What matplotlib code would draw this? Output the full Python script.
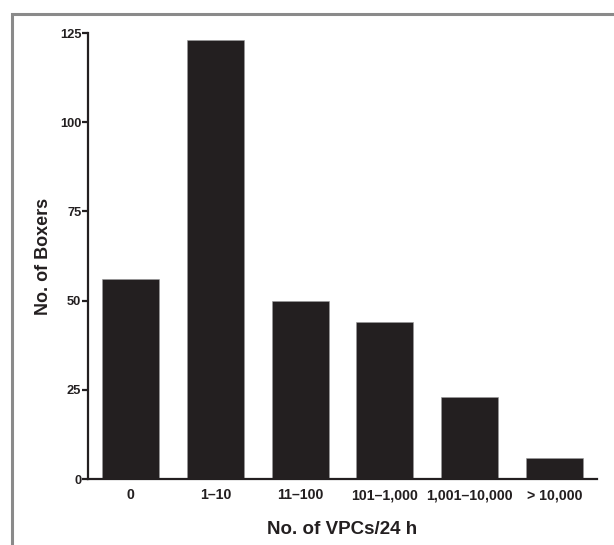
import numpy as np
import matplotlib
matplotlib.use('Agg')
import matplotlib.pyplot as plt
from matplotlib.lines import Line2D

categories = ['0', '1\u201310', '11\u2013100', '101\u20131,000', '1,001\u201310,000', '> 10,000']
boxers = [56, 123, 50, 44, 23, 6]
y_ticks = [0, 25, 50, 75, 100, 125]

plt.rcParams['font.family'] = ['Liberation Sans', 'DejaVu Sans']
plt.rcParams['font.weight'] = 'bold'

W, H = 614, 545
fig = plt.figure(figsize=(W / 100, H / 100), dpi=100)
ax = fig.add_axes([88.3 / W, 1 - 479 / H, (596.7 - 88.3) / W, (479 - 33) / H])

x = np.arange(len(categories))
ax.bar(x, boxers, width=0.67, color='#231f20', edgecolor='#9a9a9a', linewidth=0.4)

ax.set_xlim(-0.5, 5.5)
ax.set_ylim(0, 125)
ax.set_yticks(y_ticks)
ax.set_xticks(x)
ax.set_xticklabels(categories)

for s in ['top', 'right']:
    ax.spines[s].set_visible(False)
for s in ['left', 'bottom']:
    ax.spines[s].set_linewidth(1.6)
    ax.spines[s].set_color('#231f20')

ax.tick_params(axis='y', direction='out', length=4.5, width=1.6, pad=0.5,
               labelsize=9.3, colors='#231f20')
ax.tick_params(axis='x', length=0, pad=6.5, labelsize=10.2, colors='#231f20')
for lab in ax.get_xticklabels() + ax.get_yticklabels():
    lab.set_fontweight('bold')

ax.set_ylabel('No. of Boxers', fontsize=13, fontweight='bold', color='#231f20', labelpad=6)
ax.set_xlabel('No. of VPCs/24 h', fontsize=13.5, fontweight='bold', color='#231f20', labelpad=13.5)

# grey frame along the left and top edges of the panel
bx, by = 11.5 / W, 1 - 14 / H
fig.add_artist(Line2D([bx, bx, 1], [0, by, by], transform=fig.transFigure,
                      color='#8a8a8a', lw=2.2, solid_joinstyle='miter'))

fig.savefig('out.png', dpi=100, facecolor='white')
